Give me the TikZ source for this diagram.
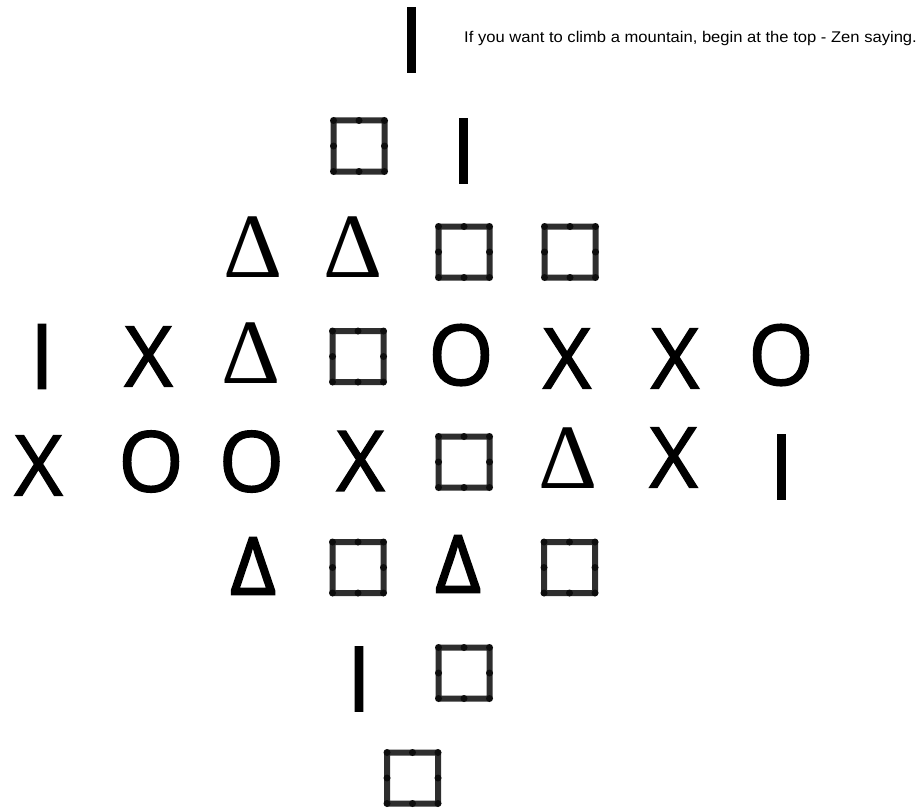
\documentclass[tikz,border=0pt]{standalone}
\usepackage{fontspec}
\newfontfamily\osans[FakeBold=1.6]{Open Sans}
\newfontfamily\osanst[FakeBold=2.2]{Open Sans}
\newfontfamily\lserif{Liberation Serif}
\newfontfamily\lsans{Liberation Sans}
\tikzset{
  glyph/.style={inner sep=0pt, outer sep=0pt, text=black},
  xo/.style={glyph, font=\fontsize{84}{84}\selectfont\osans},
  ibar/.style={glyph, font=\fontsize{90}{90}\selectfont\osans},
  delta/.style={glyph, font=\fontsize{92}{92}\selectfont\lserif},
  deltab/.style={glyph, font=\fontsize{80}{80}\selectfont\osanst},
  sqbox/.style={draw=black!82, line width=6pt, minimum size=51pt, inner sep=0pt, outer sep=0pt, rounded corners=1pt},
  sqdot/.style={circle, fill=black!95, inner sep=0pt, minimum size=7pt},
  quote/.style={anchor=base west, inner sep=0pt, xscale=1.07, transform shape, font=\fontsize{15.5}{17}\selectfont\lsans}
}
\newcommand\mysquare[3]{%
  \node[sqbox] (#1) at (#2,#3) {};
  \foreach \a in {north west,north,north east,east,south east,south,south west,west}
    \node[sqdot] at (#1.\a) {};
}
\begin{document}
\begin{tikzpicture}[x=1pt,y=-1pt]
\useasboundingbox (0,0) rectangle (922,808);
% row 0
\node[ibar] (i0) at (411.5,40) {I};
\node[quote] (q) at (464,43) {If you want to climb a mountain, begin at the top - Zen saying.};
% row 1
\mysquare{s1}{359}{146}
\node[ibar] (i1) at (463.5,151) {I};
% row 2
\node[delta] (d21) at (253.5,247) {Δ};
\node[delta] (d22) at (353.5,247) {Δ};
\mysquare{s21}{464}{252}
\mysquare{s22}{570}{252}
% row 3
\node[ibar] (i3) at (42,356.5) {I};
\node[xo] (x31) at (148.5,356.5) {X};
\node[delta] (d3) at (251.5,353.5) {Δ};
\mysquare{s3}{358}{356.5}
\node[xo] (o31) at (461,355) {O};
\node[xo] (x32) at (567,358.5) {X};
\node[xo] (x33) at (675,358.5) {X};
\node[xo] (o32) at (781,355) {O};
% row 4
\node[xo] (x41) at (38.5,465.5) {X};
\node[xo] (o41) at (151,461.5) {O};
\node[xo] (o42) at (251.5,461.5) {O};
\node[xo] (x42) at (360.5,461) {X};
\mysquare{s4}{464}{462}
\node[delta] (d4) at (568.5,458) {Δ};
\node[xo] (x43) at (673.5,457.5) {X};
\node[ibar] (i4) at (781.5,467) {I};
% row 5
\node[deltab] (d51) at (253,566) {Δ};
\mysquare{s51}{358}{567.5}
\node[deltab] (d52) at (458,564) {Δ};
\mysquare{s52}{569.5}{567.5}
% row 6
\node[ibar] (i6) at (359,679) {I};
\mysquare{s6}{464}{673}
% row 7
\mysquare{s7}{412.5}{778}
\end{tikzpicture}
\end{document}
